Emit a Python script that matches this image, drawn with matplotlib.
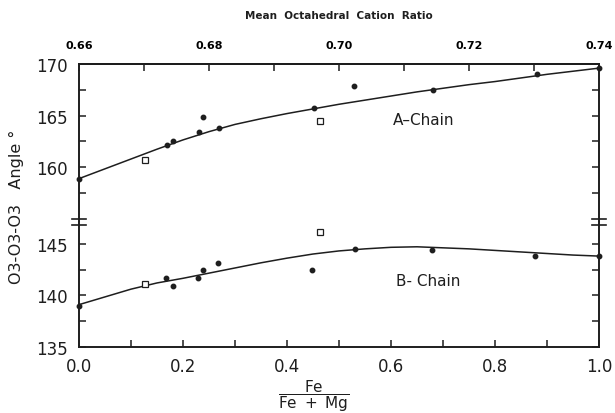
import numpy as np
import matplotlib
matplotlib.use("Agg")
import matplotlib.pyplot as plt

# Fe/(Fe+Mg) composition and O3-O3-O3 angles
a_fe = [0.0, 0.170, 0.181, 0.231, 0.239, 0.269, 0.451, 0.529, 0.680, 0.881, 1.0]
a_angle = [158.9, 162.2, 162.5, 163.4, 164.9, 163.8, 165.7, 167.9, 167.5, 169.0, 169.6]
a_open_fe = [0.126, 0.463]
a_open_angle = [160.7, 164.5]

b_fe = [0.0, 0.167, 0.180, 0.228, 0.239, 0.267, 0.448, 0.530, 0.678, 0.877, 1.0]
b_angle = [139.0, 141.7, 140.9, 141.7, 142.5, 143.1, 142.5, 144.5, 144.4, 143.8, 143.8]
b_open_fe = [0.126, 0.463]
b_open_angle = [141.1, 146.1]

# hand drawn trend curves, read at 0.05 steps
curve_fe = [0.0, 0.05, 0.1, 0.15, 0.2, 0.25, 0.3, 0.35, 0.4, 0.45, 0.5,
            0.55, 0.6, 0.65, 0.7, 0.75, 0.8, 0.85, 0.9, 0.95, 1.0]
curve_a = [158.9, 159.85, 160.8, 161.75, 162.65, 163.45, 164.15, 164.7, 165.2, 165.65, 166.1,
           166.5, 166.9, 167.3, 167.65, 168.0, 168.3, 168.65, 169.0, 169.3, 169.6]
curve_b = [139.1, 139.85, 140.6, 141.2, 141.65, 142.15, 142.65, 143.15, 143.6, 144.0, 144.3,
           144.5, 144.65, 144.7, 144.6, 144.5, 144.35, 144.2, 144.05, 143.9, 143.8]

ink = "#1e1e1e"
plt.rcParams["font.family"] = ["DejaVu Sans"]

fig = plt.figure(figsize=(6.15, 4.14), dpi=100, facecolor="white")
left, right = 79 / 615, 599 / 615
y_top, y_mid, y_bot = 1 - 65 / 414, 1 - 223 / 414, 1 - 348 / 414
ax_up = fig.add_axes([left, y_mid, right - left, y_top - y_mid])
ax_lo = fig.add_axes([left, y_bot, right - left, y_mid - y_bot])

for ax in (ax_up, ax_lo):
    ax.set_xlim(0, 1)
    for s in ax.spines.values():
        s.set_linewidth(1.4)
        s.set_color(ink)
    ax.tick_params(which="both", direction="in", left=True, right=True,
                   color=ink, width=1.1, length=5, labelsize=12, labelcolor=ink, pad=8)

ax_up.set_ylim(154.7, 170)
ax_lo.set_ylim(135, 147.1)
ax_up.spines["bottom"].set_visible(False)
ax_lo.spines["top"].set_visible(False)
ax_up.tick_params(which="both", bottom=False, labelbottom=False, top=False)
ax_lo.tick_params(which="both", top=False, bottom=True)

ax_up.set_yticks([160, 165, 170])
ax_up.set_yticks([157.5, 162.5, 167.5], minor=True)
ax_lo.set_yticks([135, 140, 145])
ax_lo.set_yticks([137.5, 142.5], minor=True)
ax_lo.set_xticks([0, 0.2, 0.4, 0.6, 0.8, 1.0])
ax_lo.set_xticks([0.1, 0.3, 0.5, 0.7, 0.9], minor=True)
ax_lo.set_xticklabels(["0.0", "0.2", "0.4", "0.6", "0.8", "1.0"])
ax_lo.tick_params(axis="x", labelsize=12, pad=7)

# top scale: mean octahedral cation ratio
sec = ax_up.secondary_xaxis("top", functions=(lambda f: 0.66 + 0.08 * f,
                                              lambda r: (r - 0.66) / 0.08))
sec.set_xticks([0.66, 0.68, 0.70, 0.72, 0.74])
sec.set_xticks([0.67, 0.69, 0.71, 0.73], minor=True)
sec.set_xticklabels(["0.66", "0.68", "0.70", "0.72", "0.74"])
sec.tick_params(which="both", direction="in", length=5, width=1.1, color=ink,
                labelsize=8, pad=10)
for lab in sec.get_xticklabels():
    lab.set_fontweight("bold")
sec.spines["top"].set_linewidth(1.4)
sec.set_xlabel("Mean  Octahedral  Cation  Ratio", fontsize=7.5,
               fontweight="bold", labelpad=16, color=ink)

# A chain
ax_up.plot(curve_fe, curve_a, color=ink, lw=1.1)
ax_up.plot(a_fe, a_angle, "o", color=ink, ms=3.2, clip_on=False)
ax_up.plot(a_open_fe, a_open_angle, "s", mfc="white", mec=ink, mew=0.9, ms=4)
ax_up.text(0.604, 164.6, "A\u2013Chain", fontsize=11, va="center", color=ink)

# B chain
ax_lo.plot(curve_fe, curve_b, color=ink, lw=1.1)
ax_lo.plot(b_fe, b_angle, "o", color=ink, ms=3.2, clip_on=False)
ax_lo.plot(b_open_fe, b_open_angle, "s", mfc="white", mec=ink, mew=0.9, ms=4)
ax_lo.text(0.61, 141.4, "B- Chain", fontsize=11, va="center", color=ink)

# axis break marks on both spines
for xs in (0.0, 1.0):
    for dy in (-3, 3):
        yy = (223 + dy) / 414
        fig.add_artist(plt.Line2D([left + (right - left) * xs - 7 / 615,
                                   left + (right - left) * xs + 7 / 615],
                                  [1 - yy, 1 - yy], color=ink, lw=1.2))

fig.text(16 / 615, 0.5, "O3-O3-O3   Angle \u00b0", rotation=90, fontsize=11.5,
         ha="center", va="center", color=ink)
fig.text((left + right) / 2 - 25 / 615, 1 - 396 / 414,
         r"$\dfrac{\mathregular{Fe}}{\mathregular{Fe\ +\ Mg}}$",
         fontsize=11, ha="center", va="center", color=ink)

fig.savefig("out.png", dpi=100, facecolor="white")
